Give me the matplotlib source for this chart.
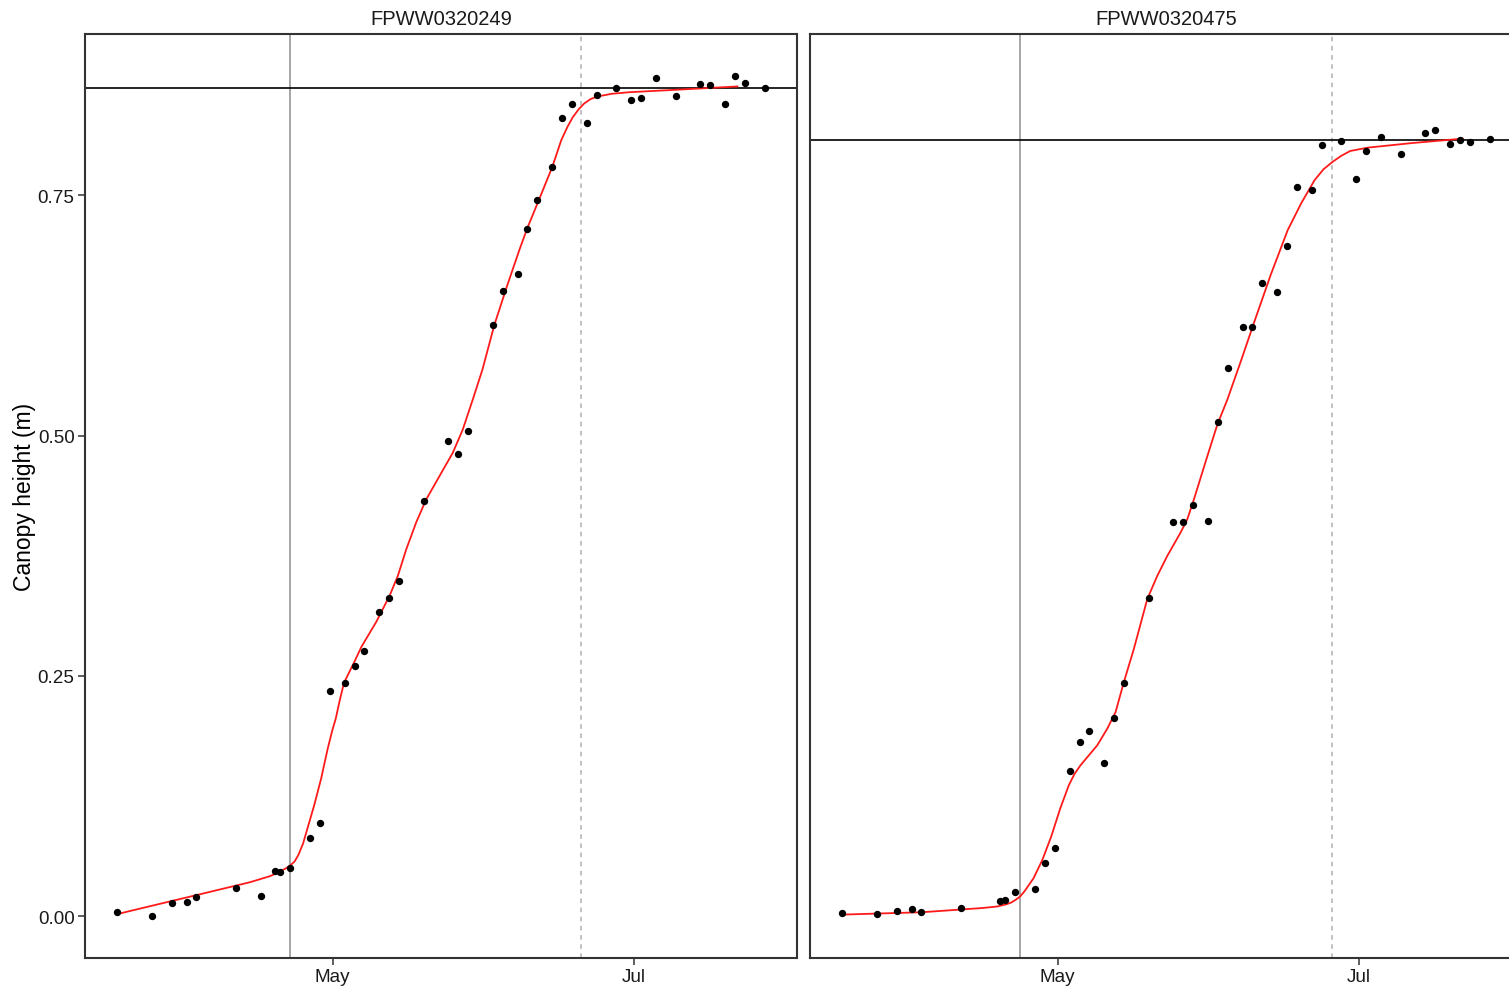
import numpy as np
import pandas as pd
import matplotlib
matplotlib.use("Agg")
import matplotlib.pyplot as plt
import matplotlib.dates as mdates

plt.rcParams['font.family'] = ['Liberation Sans', 'DejaVu Sans']

# plot labels (one panel per plot)
plots = ['FPWW0320249', 'FPWW0320475']

# measurement dates (flights at about 10:00)
dates_249 = ['03-18', '03-25', '03-29', '04-01', '04-03', '04-11', '04-16', '04-19', '04-20',
             '04-22', '04-26', '04-28', '04-30', '05-03', '05-05', '05-07', '05-10', '05-12',
             '05-14', '05-19', '05-24', '05-26', '05-28', '06-02', '06-04', '06-07', '06-09',
             '06-11', '06-14', '06-16', '06-18', '06-21', '06-23', '06-27', '06-30', '07-02',
             '07-05', '07-09', '07-14', '07-16', '07-19', '07-21', '07-23', '07-27']
height_249 = [0.0045, 0.0007, 0.0135, 0.0152, 0.0197, 0.0290, 0.0215, 0.0474, 0.0456,
              0.0501, 0.0809, 0.0972, 0.2344, 0.2427, 0.2601, 0.2762, 0.3167, 0.3309,
              0.3488, 0.4315, 0.4945, 0.4810, 0.5049, 0.6151, 0.6504, 0.6680, 0.7147,
              0.7448, 0.7794, 0.8302, 0.8447, 0.8247, 0.8537, 0.8610, 0.8485, 0.8506,
              0.8714, 0.8527, 0.8655, 0.8651, 0.8444, 0.8745, 0.8662, 0.8620]

dates_475 = ['03-18', '03-25', '03-29', '04-01', '04-03', '04-11', '04-19', '04-20', '04-22',
             '04-26', '04-28', '04-30', '05-03', '05-05', '05-07', '05-10', '05-12', '05-14',
             '05-19', '05-24', '05-26', '05-28', '05-31', '06-02', '06-04', '06-07', '06-09',
             '06-11', '06-14', '06-16', '06-18', '06-21', '06-23', '06-27', '06-30', '07-02',
             '07-05', '07-09', '07-14', '07-16', '07-19', '07-21', '07-23', '07-27']
height_475 = [0.0038, 0.0024, 0.0055, 0.0070, 0.0045, 0.0083, 0.0163, 0.0173, 0.0252,
              0.0283, 0.0557, 0.0705, 0.1515, 0.1812, 0.1926, 0.1590, 0.2061, 0.2427,
              0.3309, 0.4101, 0.4098, 0.4274, 0.4108, 0.5142, 0.5705, 0.6131, 0.6131,
              0.6587, 0.6494, 0.6971, 0.7580, 0.7549, 0.8019, 0.8067, 0.7666, 0.7956,
              0.8109, 0.7929, 0.8143, 0.8174, 0.8032, 0.8071, 0.8057, 0.8084]

# fitted growth curve (day of year, height)
fit_doy_249 = [77.33, 84.04, 94.14, 104.24, 108.3, 110.3, 111.6, 112.44, 113.3, 114.05, 115.0,
               115.89, 117.26, 118.66, 119.99, 120.9, 121.61, 122.4, 123.28, 125.38, 126.80,
               129.83, 132.51, 134.19, 135.89, 137.91, 139.93, 142.61, 145.30, 147.32, 149.34,
               151.30, 153.72, 156.35, 158.77, 160.39, 162.71, 165.44, 167.25, 168.5, 169.60,
               170.8, 171.90, 173.2, 174.65, 177.5, 180.99, 190.28, 202.92]
fit_h_249 = [0.0021, 0.0104, 0.0228, 0.0353, 0.0416, 0.0463, 0.0500, 0.0529, 0.0570, 0.0636,
             0.0755, 0.0913, 0.1155, 0.1432, 0.1743, 0.1930, 0.2054, 0.2240, 0.2427, 0.2645,
             0.2801, 0.3063, 0.3333, 0.3541, 0.3817, 0.4098, 0.4336, 0.4578, 0.4820, 0.5062,
             0.5373, 0.5685, 0.6151, 0.6566, 0.6929, 0.7158, 0.7448, 0.7794, 0.8071, 0.8210,
             0.8312, 0.8395, 0.8454, 0.8500, 0.8527, 0.8555, 0.8571, 0.8596, 0.8631]

fit_doy_475 = [77.21, 93.51, 101.64, 106.0, 108.81, 110.63, 111.6, 112.45, 113.4, 114.28,
               116.10, 117.88, 119.68, 121.51, 123.25, 124.4, 125.62, 129.00, 131.03, 132.71,
               134.39, 136.41, 139.13, 141.15, 143.18, 145.87, 147.23, 148.57, 151.28, 153.31,
               155.33, 158.03, 161.07, 164.10, 167.55, 170.26, 172.98, 174.8, 176.58, 178.4,
               180.21, 183.81, 192.85, 202.95]
fit_h_475 = [0.0016, 0.0041, 0.0070, 0.0086, 0.0101, 0.0124, 0.0142, 0.0169, 0.0205, 0.0259,
             0.0394, 0.0584, 0.0827, 0.1120, 0.1362, 0.1480, 0.1570, 0.1777, 0.1950, 0.2123,
             0.2435, 0.2780, 0.3299, 0.3540, 0.3748, 0.3991, 0.4129, 0.4336, 0.4785, 0.5114,
             0.5373, 0.5768, 0.6224, 0.6670, 0.7137, 0.7414, 0.7656, 0.7770, 0.7845, 0.7910,
             0.7960, 0.7995, 0.8043, 0.8088]

# final height, start and end of stem elongation
final_height = [0.862, 0.807]
start_dates = ['2019-04-22 10:00', '2019-04-23 11:00']
end_dates = ['2019-06-20 07:00', '2019-06-25 12:00']

year = '2019'


def to_dates(md):
    return pd.to_datetime([f'{year}-{d} 10:00' for d in md])


def doy_to_dates(doy):
    return pd.Timestamp(f'{year}-01-01') + pd.to_timedelta(np.array(doy) - 1, unit='D')


panels = [
    (to_dates(dates_249), height_249, doy_to_dates(fit_doy_249), fit_h_249),
    (to_dates(dates_475), height_475, doy_to_dates(fit_doy_475), fit_h_475),
]

# shared scales with 5% expansion like ggplot facets
all_x = np.concatenate([mdates.date2num(p[0]) for p in panels])
all_y = np.concatenate([p[1] for p in panels])
xr = all_x.max() - all_x.min()
yr = all_y.max() - all_y.min()
xlim = (all_x.min() - 0.05 * xr, all_x.max() + 0.05 * xr)
ylim = (all_y.min() - 0.05 * yr, all_y.max() + 0.05 * yr)

W, H = 1509, 987
fig = plt.figure(figsize=(W / 100, H / 100), dpi=100)
fig.patch.set_facecolor('white')

panel_w = 712 / W
panel_h = 924 / H
bottom = 28.5 / H
lefts = [85 / W, 810 / W]

border = '#333333'
for i, (px, py, fx, fy) in enumerate(panels):
    ax = fig.add_axes([lefts[i], bottom, panel_w, panel_h])
    ax.axvline(pd.Timestamp(start_dates[i]), color='#a6a6a6', lw=1.4, zorder=1)
    ax.axvline(pd.Timestamp(end_dates[i]), color='#b0b0b0', lw=1.1, ls=(0, (3, 3)), zorder=1)
    ax.axhline(final_height[i], color='black', lw=1.2, zorder=2)
    ax.plot(fx, fy, color='#ff1a1a', lw=1.3, zorder=3, solid_joinstyle='round')
    ax.scatter(px, py, s=28, color='black', zorder=4, linewidths=0)

    ax.set_xlim(xlim)
    ax.set_ylim(ylim)
    ax.xaxis.set_major_locator(mdates.MonthLocator(bymonth=[5, 7]))
    ax.xaxis.set_major_formatter(mdates.DateFormatter('%b'))
    ax.set_yticks([0, 0.25, 0.5, 0.75])
    ax.set_yticklabels(['0.00', '0.25', '0.50', '0.75'])
    ax.tick_params(axis='both', length=5, width=1.1, color=border, labelsize=13.6,
                   labelcolor='#1a1a1a', pad=2.5)
    if i > 0:
        ax.tick_params(axis='y', left=False, labelleft=False)
    else:
        ax.set_ylabel('Canopy height (m)', fontsize=16.5, color='black', labelpad=1)
    for s in ax.spines.values():
        s.set_color(border)
        s.set_linewidth(1.5)
    ax.set_title(plots[i], fontsize=14.5, color='#1a1a1a', pad=7)

fig.savefig('out.png', dpi=100, facecolor='white')
